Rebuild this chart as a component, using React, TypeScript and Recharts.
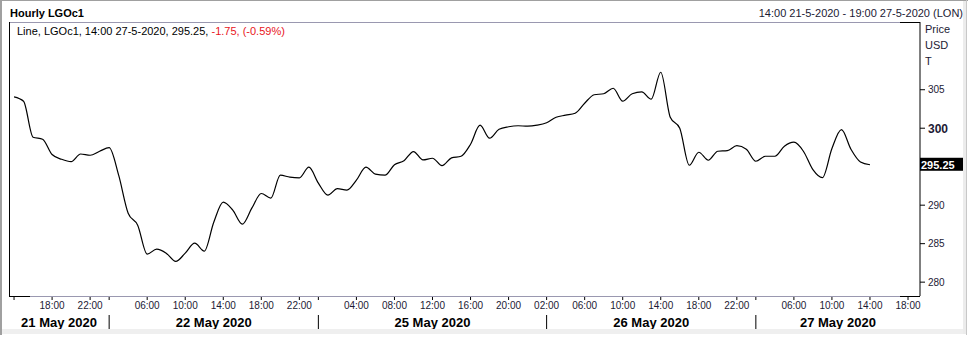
import React from "react";
import { LineChart, Line, XAxis, YAxis } from "recharts";

// Hourly closes, 14:00 21-5-2020 .. 14:00 27-5-2020 (trading-hour index)
const prices = [
  304.07, 303.5, 298.83, 298.57, 296.58, 295.96, 295.65, 296.65, 296.49, 297.01,
  297.47, 293.9, 288.96, 287.4, 283.64, 284.29, 283.77, 282.69, 283.77, 285.06,
  284.03, 287.79, 290.39, 289.35, 287.53, 289.61, 291.52, 290.91, 293.9, 293.64,
  293.55, 294.94, 292.86, 291.3, 292.14, 291.95, 293.25, 294.94, 294.03, 293.9,
  295.26, 295.78, 296.97, 295.88, 296.1, 295.13, 296.14, 296.36, 297.92, 300.39,
  298.7, 299.87, 300.19, 300.32, 300.26, 300.39, 300.71, 301.43, 301.69, 301.95,
  303.25, 304.35, 304.48, 305.19, 303.51, 304.48, 304.71, 303.77, 307.27, 301.43,
  300, 295.19, 296.88, 295.84, 297.01, 297.08, 297.73, 297.27, 295.71, 296.36,
  296.36, 297.66, 298.18, 297.01, 294.61, 293.57, 297.36, 299.81, 297.27, 295.62,
  295.25,
];

const hourTickIdx = [0, 4, 8, 10, 14, 18, 22, 26, 30, 32, 36, 40, 44, 48, 52, 56, 60, 64, 68, 72, 76, 78, 82, 86, 90, 94];
const hourTickLabels = ["", "18:00", "22:00", "", "06:00", "10:00", "14:00", "18:00", "22:00", "", "04:00", "08:00", "12:00", "16:00", "20:00", "02:00", "06:00", "10:00", "14:00", "18:00", "22:00", "", "06:00", "10:00", "14:00", "18:00"];

const daySeparators = [10, 32, 56, 78];
const dayLabels = ["21 May 2020", "22 May 2020", "25 May 2020", "26 May 2020", "27 May 2020"];

const priceTicks = [280, 285, 290, 300, 305];
const lastPrice = 295.25;
const xDomain: [number, number] = [-0.53, 95.26];
const yDomain: [number, number] = [278.2, 313.8];

const data = prices.map((p, i) => ({ i, p }));
const bounds = [xDomain[0], ...daySeparators, xDomain[1]];
const dayMids = dayLabels.map((_, k) => (bounds[k] + bounds[k + 1]) / 2);

const FONT = "Arial, 'Liberation Sans', sans-serif";
const TXT = "#1c1a34";

const HourTick = (props: any) => {
  const { x, y, payload } = props;
  const k = hourTickIdx.indexOf(payload.value);
  const label = k >= 0 ? hourTickLabels[k] : "";
  if (!label) return <g />;
  return (
    <text x={x} y={y + 9} textAnchor="middle" fontFamily={FONT} fontSize={10} fill={TXT}>
      {label}
    </text>
  );
};

const DayTick = (props: any) => {
  const { x, y, payload } = props;
  if (daySeparators.indexOf(payload.value) >= 0) {
    return <line x1={x} x2={x} y1={y - 1} y2={y + 14} stroke="#000" strokeWidth={1} />;
  }
  const k = dayMids.indexOf(payload.value);
  return (
    <text x={x} y={y + 11} textAnchor="middle" fontFamily={FONT} fontSize={13} fontWeight="bold" fill="#000">
      {k >= 0 ? dayLabels[k] : ""}
    </text>
  );
};

const PriceTick = (props: any) => {
  const { x, y, payload } = props;
  const v = payload.value;
  if (v === lastPrice) {
    return (
      <g>
        <rect x={x - 7} y={y - 7} width={45} height={13} fill="#000" />
        <text x={x - 6} y={y + 4} fontFamily={FONT} fontSize={11} fontWeight="bold" fill="#fff">
          {v.toFixed(2)}
        </text>
      </g>
    );
  }
  const bold = v === 300;
  return (
    <text x={x + 1} y={y + (bold ? 4.5 : 3.5)} fontFamily={FONT} fontSize={bold ? 12 : 10} fontWeight={bold ? "bold" : "normal"} fill={TXT}>
      {v}
    </text>
  );
};

export default function App() {
  return (
    <div style={{ position: "absolute", left: 0, top: 0, width: 968, height: 337, background: "#fff" }}>
      <LineChart width={968} height={337} data={data} margin={{ top: 22, left: 9, right: 0, bottom: 0 }}>
        <XAxis
          dataKey="i"
          type="number"
          domain={xDomain}
          allowDataOverflow
          ticks={hourTickIdx}
          interval={0}
          height={20}
          axisLine={false}
          tickLine={{ stroke: "#000" }}
          tickSize={4}
          tickMargin={0}
          tick={<HourTick />}
        />
        <XAxis
          xAxisId="day"
          dataKey="i"
          type="number"
          domain={xDomain}
          allowDataOverflow
          ticks={[...dayMids, ...daySeparators]}
          interval={0}
          height={21}
          axisLine={false}
          tickLine={false}
          tickSize={0}
          tickMargin={0}
          tick={<DayTick />}
        />
        <YAxis
          orientation="right"
          width={48}
          type="number"
          domain={yDomain}
          allowDataOverflow
          ticks={[...priceTicks, lastPrice]}
          interval={0}
          axisLine={{ stroke: "#000" }}
          tickLine={{ stroke: "#000" }}
          tickSize={5}
          tickMargin={2}
          tick={<PriceTick />}
        />
        <Line
          dataKey="p"
          type="monotone"
          stroke="#000"
          strokeWidth={1.2}
          dot={false}
          isAnimationActive={false}
        />
      </LineChart>
      <svg width={968} height={337} style={{ position: "absolute", left: 0, top: 0, pointerEvents: "none" }}>
        {/* outer frame */}
        <rect x={0} y={0} width={2} height={335} fill="#a0a0a0" />
        <rect x={0} y={0} width={968} height={1} fill="#a0a0a0" />
        <rect x={2} y={329} width={964} height={5} fill="#efefef" />
        <rect x={963} y={1} width={3} height={333} fill="#ececec" />
        <rect x={966} y={0} width={1} height={335} fill="#c8c8c8" />
        {/* plot border */}
        <line x1={9} x2={920} y1={22.5} y2={22.5} stroke="#9a98b0" />
        <line x1={9} x2={920} y1={296.5} y2={296.5} stroke="#9a98b0" />
        <line x1={9} x2={30} y1={296.5} y2={296.5} stroke="#000" />
        <line x1={900} x2={920} y1={296.5} y2={296.5} stroke="#000" />
        <line x1={900} x2={920} y1={22.5} y2={22.5} stroke="#000" />
        <line x1={9.5} x2={9.5} y1={22} y2={297} stroke="#000" />
        {/* texts */}
        <text x={10} y={17} fontFamily={FONT} fontSize={11} fontWeight="bold" fill="#000">Hourly LGOc1</text>
        <text x={963} y={17} textAnchor="end" fontFamily={FONT} fontSize={11} fill={TXT}>
          14:00 21-5-2020 - 19:00 27-5-2020 (LON)
        </text>
        <text x={17} y={35} fontFamily={FONT} fontSize={11} fill="#000">
          Line, LGOc1, 14:00 27-5-2020, 295.25, <tspan fill="#e8141c">-1.75, (-0.59%)</tspan>
        </text>
        <text x={925} y={33} fontFamily={FONT} fontSize={11} fill={TXT}>Price</text>
        <text x={925} y={49} fontFamily={FONT} fontSize={11} fill={TXT}>USD</text>
        <text x={925} y={64.5} fontFamily={FONT} fontSize={11} fill={TXT}>T</text>
      </svg>
    </div>
  );
}
